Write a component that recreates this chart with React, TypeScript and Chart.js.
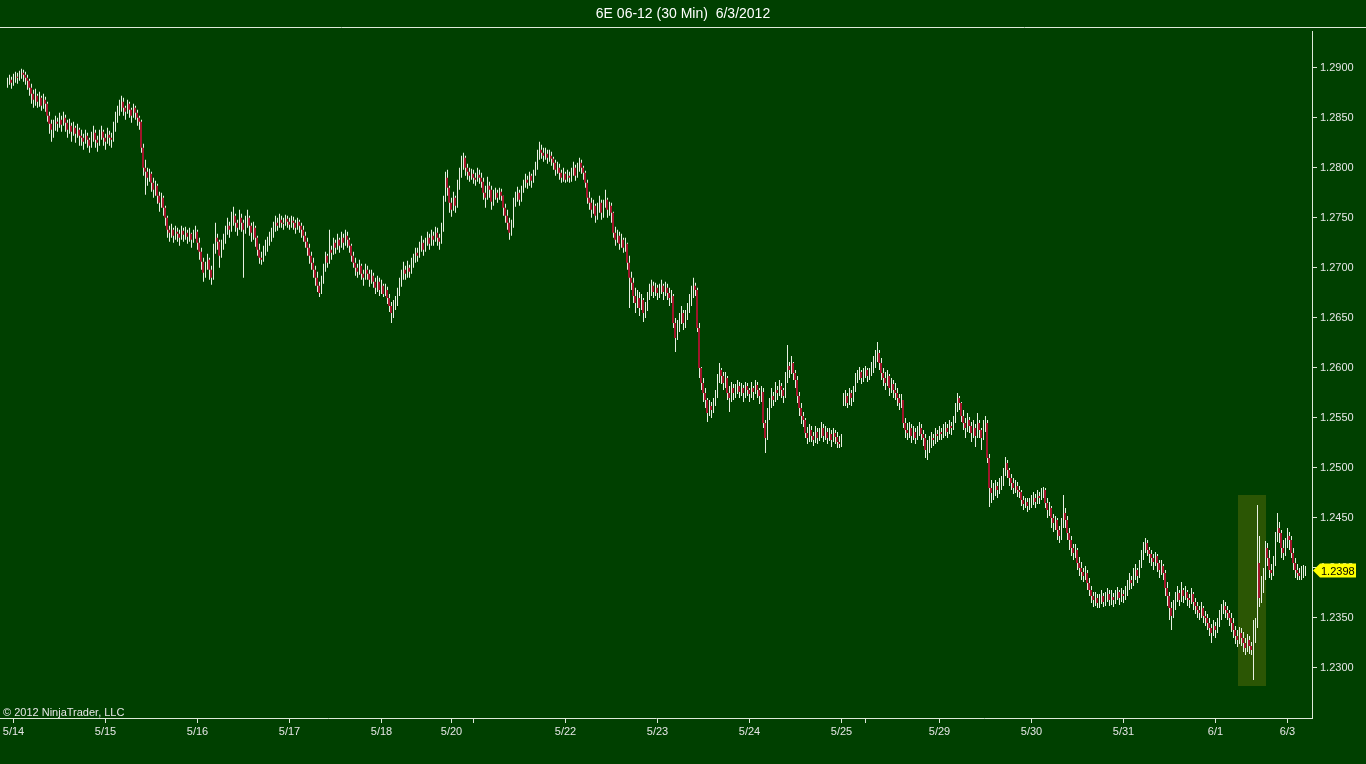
import { useEffect, useRef } from 'react';
import { Chart, registerables } from 'chart.js';

Chart.register(...registerables);

const TITLE = '6E 06-12 (30 Min)  6/3/2012';
const COPYRIGHT = '\u00a9 2012 NinjaTrader, LLC';

// 30 minute bars, prices stored as pips above 1.2000 (886 -> 1.2886)
const BASE = 1.2;
const FIRST_OPEN = 884;
// bars that opened away from the previous close (session gap)
const gapOpens: Record<number, number> = { 418: 562 };

const closes = [
  886, 888, 885, 889, 891, 890, 893,
  895, 893, 890, 887,
  880, 874, 868,
  872, 866, 870, 862, 868, 864,
  852, 844, 838,
  840, 846, 844, 848, 843, 850, 845, 838, 842, 836, 840, 834, 838, 832,
  830, 826, 832, 828, 822, 830, 835, 828, 825, 832, 836, 830, 826, 833, 830, 828, 838,
  848, 856, 862, 866, 860, 856, 864, 858, 852, 860, 855, 850, 846,
  820, 800,
  796, 790, 794, 785, 778, 782, 772, 765, 770, 760, 750,
  738, 735, 738, 732, 736, 734, 730, 737, 733, 735, 731, 734, 728, 732, 736,
  725, 716, 706, 695, 700, 708, 698, 690,
  718, 730, 726, 712, 722, 728,
  735, 742, 738, 748, 752, 745, 740, 750, 745,
  738, 745, 750, 742, 735, 740, 730,
  718, 710, 708, 715, 720,
  726, 730, 735, 740,
  745, 742, 748, 745, 744, 749, 746, 743, 747, 745, 740, 746, 742,
  738, 732, 726, 720, 712, 705, 698, 690, 682,
  675, 685,
  698, 712, 705, 718, 715, 725, 720, 728, 722, 730,
  725, 732, 728, 722,
  712, 705, 700, 696, 702, 694, 690, 698, 694, 688, 692,
  686, 680, 686, 678, 682, 674, 678,
  670, 662, 655, 660, 665,
  675, 685, 692, 698, 694, 700, 696, 704,
  708, 715, 712, 720, 725, 718, 726, 730, 724, 732,
  728, 735, 730, 726, 738,
  770, 790, 780,
  765, 758, 770, 762,
  782, 795, 805, 810, 800,
  796, 792, 794, 790, 788, 793, 790, 786,
  775, 770, 782, 778, 766,
  772, 775, 770, 776, 772,
  760, 752, 745, 735, 742,
  765, 770, 775, 768, 778,
  782, 788, 785, 792, 787, 795, 800,
  812, 818,
  815, 812, 814, 810, 812, 809,
  805, 798, 800, 795, 790, 794, 788, 792, 790,
  795, 800, 792, 798, 805, 800, 795,
  785, 770, 765, 758, 762, 752,
  758, 765, 755, 762, 768, 758, 762, 755,
  735, 728, 732, 724, 728, 720, 724,
  705, 690, 685,
  672, 665, 670, 660, 668, 655, 660,
  672, 678, 682, 676, 680, 675, 678, 682, 676,
  680, 675, 670, 672,
  645, 630, 640,
  648, 655, 645, 652, 660,
  668, 675, 682, 678,
  640, 600,
  585, 575, 568,
  555, 562, 558, 565, 572,
  590, 598, 592, 585, 590,
  575, 570, 580, 575,
  578, 582, 576, 580, 575, 582, 578, 574, 580, 576, 583, 578, 572, 576,
  545, 530,
  552, 565, 572, 568, 578, 575, 582, 578, 572,
  590, 602, 598, 605, 595, 588,
  572, 560, 552, 548,
  535, 530, 538, 532, 528, 536, 530, 534, 540, 532, 536, 530, 534, 528, 535, 531, 526, 524, 528,
  568, 572, 565, 575, 570, 578,
  588, 592, 596, 590, 594, 598, 592, 596, 600, 602,
  610, 615, 605,
  595, 590, 585, 592, 580, 584, 578,
  575, 570, 565, 568,
  545, 538, 535, 540, 532, 536, 530, 535, 540, 534, 530,
  518, 522,
  526, 530, 528, 534, 532, 536, 534, 538, 540, 536, 542, 540, 548,
  560, 570, 565,
  552, 545, 540, 548, 542,
  535, 540, 532, 545, 538, 530, 542, 545,
  510, 480,
  475, 478, 482, 478, 484, 486,
  495, 505, 498, 490,
  485, 480, 482, 478, 476,
  468, 464, 466, 462, 465,
  468, 470, 466, 472, 470, 475, 478,
  465, 458, 460, 450, 445, 448, 438, 432,
  445, 455, 448,
  435, 428, 420, 415, 418,
  405, 400, 396, 392, 395,
  385, 378, 372, 368, 370, 365,
  368, 372, 366, 370, 374, 368, 371, 368, 372, 376, 370, 374, 372, 376,
  382, 388, 385, 394, 398, 392, 402,
  412, 420, 425, 418, 414,
  410, 406, 412, 405, 398, 402, 395,
  380, 372, 360, 352, 362,
  370, 375, 368, 378, 372, 376, 370, 368, 374, 366,
  362, 358, 355, 360, 352, 350,
  345, 340, 335, 342, 338,
  345, 352, 358, 362, 358, 355, 350,
  345, 338, 332, 328, 335,
  330, 325, 320, 328, 322, 318,
  335, 345,
  405, 370, 380, 395, 420,
  410, 398, 395, 405,
  430, 440, 435,
  420, 415,
  425, 432, 428,
  415, 405, 398, 395,
  392, 395, 396, 398,
];

const highs = [
  890, 893, 891, 894, 896, 895, 897,
  899, 898, 896, 893,
  889, 884, 878,
  879, 874, 876, 872, 874, 871,
  866, 856, 848,
  848, 852, 850, 855, 852, 856, 853, 848, 849, 845, 846, 842, 844, 840,
  838, 834, 838, 835, 830, 836, 842, 838, 832, 838, 842, 838, 834, 840, 837, 835, 846,
  856, 862, 868, 872, 870, 862, 868, 866, 860, 864, 862, 858, 852,
  848, 824,
  808, 800, 799, 796, 790, 787, 784, 776, 775, 772, 762,
  752, 742, 744, 740, 742, 740, 738, 742, 740, 741, 738, 740, 735, 738, 742,
  738, 730, 720, 710, 706, 714, 710, 702,
  724, 745, 734, 728, 728, 734,
  742, 750, 746, 756, 761, 754, 748, 758, 754,
  748, 752, 758, 752, 745, 746, 742,
  732, 724, 716, 722, 728,
  731, 736, 740, 746,
  752, 750, 754, 752, 750, 753, 752, 750, 752, 751, 748, 750, 748,
  745, 742, 736, 730, 724, 716, 710, 702, 696,
  686, 692,
  704, 716, 714, 738, 722, 730, 728, 734, 730, 736,
  734, 738, 736, 730,
  724, 716, 710, 704, 708, 704, 698, 704, 702, 698, 698,
  695, 690, 692, 690, 688, 684, 684,
  681, 674, 666, 668, 672,
  680, 690, 698, 706, 702, 707, 703, 710,
  714, 720, 720, 726, 732, 728, 730, 736, 734, 738,
  736, 741, 740, 734, 745,
  772, 796, 798,
  782, 770, 776, 772,
  788, 800, 812, 815, 812,
  804, 800, 799, 798, 795, 800, 798, 795,
  790, 782, 791, 786, 782,
  778, 780, 778, 780, 779,
  771, 764, 758, 750, 748,
  770, 776, 781, 778, 782,
  788, 794, 792, 796, 794, 798, 806,
  818, 826,
  823, 820, 820, 818, 818, 816,
  811, 808, 806, 804, 798, 800, 796, 798, 796,
  800, 806, 803, 805, 810, 808, 802,
  797, 788, 776, 770, 768, 764,
  765, 772, 768, 768, 778, 770, 766, 765,
  756, 741, 738, 736, 734, 730, 730,
  725, 712, 696,
  690, 680, 678, 676, 674, 670, 666,
  676, 684, 688, 686, 685, 683, 684, 688, 684,
  686, 684, 680, 678,
  674, 650, 648,
  655, 662, 658, 658, 665,
  674, 682, 690, 685,
  680, 645,
  601, 590, 580,
  570, 568, 566, 570, 578,
  594, 605, 600, 596, 596,
  592, 582, 586, 584,
  584, 588, 586, 585, 583, 586, 585, 580, 586, 582, 588, 586, 580, 582,
  580, 548,
  560, 570, 580, 576, 586, 582, 588, 585, 580,
  596, 623, 606, 612, 606, 598,
  592, 576, 565, 556,
  550, 541, 544, 542, 536, 542, 540, 540, 546, 544, 542, 540, 540, 538, 540, 538, 536, 532, 534,
  575, 578, 575, 580, 578, 582,
  595, 598, 601, 598, 600, 602, 600, 600, 606, 612,
  618, 626, 618,
  610, 600, 596, 598, 594, 590, 588,
  585, 580, 574, 574,
  568, 550, 545, 546, 544, 542, 540, 542, 546, 544, 538,
  534, 528,
  532, 536, 534, 540, 538, 542, 540, 544, 546, 544, 548, 546, 552,
  565, 575, 572,
  566, 558, 550, 555, 551,
  546, 548, 544, 555, 548, 540, 548, 552,
  548, 514,
  488, 485, 488, 486, 490, 492,
  500, 511, 508, 500,
  494, 490, 488, 486, 482,
  478, 472, 470, 470, 470,
  473, 476, 474, 478, 476, 480, 481,
  480, 470, 466, 462, 454, 452, 450, 442,
  450, 473, 460,
  452, 440, 432, 424, 424,
  420, 411, 406, 400, 402,
  398, 390, 382, 376, 376, 374,
  374, 378, 375, 376, 380, 378, 378, 375, 378, 381, 378, 380, 378, 382,
  388, 395, 392, 400, 404, 400, 408,
  418, 426, 430, 428, 421,
  418, 414, 416, 414, 408, 408, 404,
  398, 386, 376, 366, 368,
  376, 382, 378, 386, 380, 382, 378, 374, 380, 376,
  370, 366, 362, 366, 362, 357,
  354, 350, 344, 348, 346,
  350, 358, 364, 368, 366, 362, 358,
  355, 350, 342, 338, 341,
  340, 336, 330, 334, 332, 326,
  348, 350,
  463, 432, 392, 400, 427,
  425, 418, 404, 412,
  436, 455, 446,
  438, 428,
  430, 440, 436,
  432, 420, 410, 404,
  400, 402, 403, 402,
];

const lows = [
  880, 883, 879, 882, 885, 884, 887,
  889, 886, 883, 878,
  872, 864, 860,
  862, 860, 861, 857, 859, 856,
  846, 834, 826,
  830, 837, 836, 840, 836, 842, 836, 830, 834, 826, 832, 825, 830, 822,
  822, 818, 824, 820, 815, 820, 826, 820, 816, 822, 828, 822, 818, 824, 822, 820, 826,
  836, 845, 852, 856, 852, 848, 854, 850, 845, 850, 848, 842, 838,
  815, 792,
  773, 782, 786, 776, 770, 772, 764, 756, 760, 752, 742,
  730, 726, 730, 725, 728, 726, 722, 728, 726, 728, 724, 726, 720, 725, 729,
  718, 708, 698, 686, 690, 698, 688, 683,
  688, 714, 718, 700, 710, 718,
  724, 733, 730, 736, 742, 736, 732, 738, 736,
  690, 734, 740, 732, 726, 728, 721,
  712, 704, 703, 706, 712,
  716, 722, 726, 730,
  736, 737, 740, 740, 738, 742, 740, 738, 740, 738, 734, 738, 735,
  730, 726, 720, 712, 704, 698, 690, 682, 676,
  671, 674,
  684, 696, 700, 704, 708, 713, 714, 718, 715, 720,
  718, 722, 720, 715,
  706, 700, 692, 690, 693, 688, 682, 688, 688, 681, 684,
  680, 674, 676, 672, 674, 671, 672,
  664, 656, 645, 650, 658,
  662, 672, 681, 688, 688, 690, 690, 694,
  700, 705, 706, 710, 716, 712, 716, 722, 718, 722,
  722, 726, 722, 718, 724,
  736, 766, 772,
  755, 751, 757, 755,
  760, 778, 790, 798, 792,
  788, 786, 788, 784, 782, 786, 784, 780,
  768, 760, 768, 770, 758,
  762, 768, 765, 768, 767,
  752, 745, 738, 728, 732,
  740, 761, 766, 762, 766,
  775, 780, 779, 782, 780, 785, 792,
  798, 808,
  809, 806, 808, 804, 806, 802,
  798, 792, 794, 788, 785, 786, 785, 786, 785,
  786, 792, 787, 790, 796, 794, 788,
  780, 764, 758, 750, 754, 745,
  748, 755, 748, 750, 760, 750, 752, 745,
  730, 722, 725, 718, 720, 715, 716,
  698, 660, 678,
  665, 655, 660, 652, 658, 646, 650,
  657, 668, 672, 670, 672, 668, 670, 674, 668,
  672, 668, 662, 665,
  640, 616, 628,
  636, 644, 638, 640, 648,
  655, 662, 670, 672,
  636, 590,
  578, 566, 560,
  546, 552, 550, 555, 562,
  570, 585, 584, 578, 580,
  568, 556, 566, 568,
  570, 574, 570, 572, 566, 570, 572, 566, 570, 568, 574, 570, 564, 566,
  540, 515,
  528, 548, 560, 562, 566, 568, 572, 570, 565,
  570, 585, 590, 594, 588, 580,
  565, 552, 544, 541,
  530, 524, 526, 526, 522, 525, 524, 527, 530, 526, 528, 524, 527, 521, 526, 524, 520, 520, 521,
  562, 562, 560, 563, 562, 566,
  576, 585, 588, 584, 586, 590, 586, 588, 592, 595,
  600, 606, 598,
  588, 582, 578, 582, 572, 575, 570,
  568, 562, 558, 560,
  540, 530, 528, 530, 525, 528, 524, 528, 532, 528, 522,
  510, 508,
  515, 520, 522, 524, 526, 528, 528, 530, 532, 530, 534, 533, 538,
  545, 556, 558,
  546, 538, 530, 536, 535,
  526, 530, 521, 530, 530, 518, 528, 536,
  505, 461,
  465, 468, 472, 470, 474, 478,
  482, 492, 490, 482,
  478, 474, 475, 471, 470,
  462, 458, 460, 456, 458,
  460, 463, 460, 464, 464, 468, 470,
  460, 450, 452, 440, 436, 438, 428, 425,
  428, 440, 440,
  428, 418, 412, 408, 410,
  398, 392, 388, 386, 388,
  378, 372, 365, 361, 362, 360,
  360, 364, 361, 362, 366, 362, 363, 361, 364, 368, 363, 366, 365, 368,
  372, 378, 379, 382, 388, 385, 390,
  400, 408, 415, 412, 405,
  402, 398, 402, 396, 390, 393, 388,
  372, 362, 348, 338, 350,
  358, 366, 362, 366, 365, 368, 362, 360, 364, 358,
  354, 350, 348, 350, 345, 342,
  338, 332, 325, 332, 330,
  335, 341, 348, 354, 350, 348, 342,
  336, 330, 324, 321, 324,
  322, 316, 313, 316, 314, 313,
  288, 325,
  340, 361, 365, 375, 388,
  402, 390, 388, 392,
  402, 426, 425,
  410, 408,
  412, 420, 418,
  410, 398, 390, 388,
  388, 388, 390, 392,
];

// day separators on the time axis, as bar indexes
const dayTickIndex = [3, 49, 95, 141, 187, 222, 233, 279, 325, 371, 417, 429, 466, 512, 558, 604, 640];
const dayTickLabel = ['5/14', '5/15', '5/16', '5/17', '5/18', '5/20', '', '5/22', '5/23', '5/24', '5/25', '', '5/29', '5/30', '5/31', '6/1', '6/3'];
const priceTicks = [1.23, 1.235, 1.24, 1.245, 1.25, 1.255, 1.26, 1.265, 1.27, 1.275, 1.28, 1.285, 1.29];

// shaded zone on 6/1
const zoneFrom = 615;
const zoneTo = 629;
const zoneLow = 1.2282;
const zoneHigh = 1.2473;

const BG = '#004000';
const LINE = '#dfe9da';
const TEXT = '#e6e6e6';
const WICK = '#e8f0e2';
const DOWN = '#a1162a';
const UP = 'rgba(0,0,0,0)';
const FONT = '"Liberation Sans", Arial, sans-serif';

const toPrice = (v: number) => BASE + v / 10000;

export default function App() {
  const canvasRef = useRef<HTMLCanvasElement | null>(null);

  useEffect(() => {
    document.body.style.margin = '0';
    document.body.style.overflow = 'hidden';
    if (!canvasRef.current) return;

    const opens = closes.map((c, i) => (gapOpens[i] !== undefined ? gapOpens[i] : i === 0 ? FIRST_OPEN : closes[i - 1]));
    const ranges = closes.map((c, i) => ({
      x: i,
      y: [toPrice(Math.min(lows[i], opens[i], c)), toPrice(Math.max(highs[i], opens[i], c))],
    }));
    // body sits a quarter slot left so it covers the wick column and the gap beside it
    const bodies = closes.map((c, i) => ({
      x: i - 0.25,
      y: [toPrice(Math.min(opens[i], c)), toPrice(Math.max(opens[i], c))],
    }));
    const bodyColors = closes.map((c, i) => (c < opens[i] ? DOWN : UP));
    const lastClose = toPrice(closes[closes.length - 1]);

    const decor = {
      id: 'decor',
      beforeDraw(chart: any) {
        const { ctx, width, height } = chart;
        ctx.save();
        ctx.fillStyle = BG;
        ctx.fillRect(0, 0, width, height);
        ctx.strokeStyle = LINE;
        ctx.lineWidth = 1;
        ctx.beginPath();
        ctx.moveTo(0, 27.5);
        ctx.lineTo(width, 27.5);
        ctx.stroke();
        ctx.restore();
      },
      beforeDatasetsDraw(chart: any) {
        const { ctx, scales } = chart;
        const l = Math.round(scales.x.getPixelForValue(zoneFrom));
        const r = Math.round(scales.x.getPixelForValue(zoneTo));
        const t = Math.round(scales.y.getPixelForValue(zoneHigh));
        const b = Math.round(scales.y.getPixelForValue(zoneLow));
        ctx.save();
        ctx.fillStyle = '#2b5604';
        ctx.fillRect(l, t, r - l, b - t);
        ctx.restore();
      },
      afterDraw(chart: any) {
        const { ctx, scales, chartArea } = chart;
        ctx.save();
        ctx.font = `11px ${FONT}`;
        ctx.fillStyle = TEXT;
        ctx.textBaseline = 'alphabetic';
        ctx.textAlign = 'left';
        ctx.fillText(COPYRIGHT, 3, chartArea.bottom - 2);

        const y = Math.round(scales.y.getPixelForValue(lastClose)) + 0.5;
        const x0 = chartArea.right + 1;
        ctx.fillStyle = '#ffff00';
        ctx.beginPath();
        ctx.moveTo(x0, y);
        ctx.lineTo(x0 + 7, y - 7);
        ctx.lineTo(x0 + 43, y - 7);
        ctx.lineTo(x0 + 43, y + 7);
        ctx.lineTo(x0 + 7, y + 7);
        ctx.closePath();
        ctx.fill();
        ctx.fillStyle = '#000000';
        ctx.textBaseline = 'middle';
        ctx.fillText(lastClose.toFixed(4), x0 + 8, y + 1);
        ctx.restore();
      },
    };

    const chart = new Chart(canvasRef.current, {
      type: 'bar',
      data: {
        datasets: [
          { label: 'body', data: bodies as any, backgroundColor: bodyColors, barThickness: 2, inflateAmount: 0, grouped: false, order: 0 },
          { label: 'range', data: ranges as any, backgroundColor: WICK, barThickness: 1, inflateAmount: 0, grouped: false, order: 1 },
        ],
      },
      options: {
        animation: false,
        responsive: true,
        maintainAspectRatio: false,
        layout: { padding: 0 },
        plugins: {
          legend: { display: false },
          tooltip: { enabled: false },
          title: {
            display: true,
            text: TITLE,
            color: '#ffffff',
            font: { size: 14, family: FONT, weight: 'normal' },
            padding: { top: 6, bottom: 9 },
          },
        },
        scales: {
          x: {
            type: 'linear',
            min: -3.75,
            max: 652.25,
            offset: false,
            afterBuildTicks: (s: any) => {
              s.ticks = dayTickIndex.map((v) => ({ value: v }));
            },
            afterFit: (s: any) => {
              s.height = 46;
            },
            ticks: {
              autoSkip: false,
              maxRotation: 0,
              color: TEXT,
              padding: 2,
              font: { size: 11, family: FONT },
              callback: (_v: any, i: number) => dayTickLabel[i],
            },
            grid: { drawOnChartArea: false, drawTicks: true, tickLength: 5, color: LINE, offset: false },
            border: { display: true, color: LINE },
          },
          y: {
            type: 'linear',
            position: 'right',
            min: 1.225,
            max: 1.2936,
            beginAtZero: false,
            afterBuildTicks: (s: any) => {
              s.ticks = priceTicks.map((v) => ({ value: v }));
            },
            afterFit: (s: any) => {
              s.width = 54;
            },
            ticks: {
              color: TEXT,
              padding: 3,
              font: { size: 11, family: FONT },
              callback: (v: any) => Number(v).toFixed(4),
            },
            grid: { drawOnChartArea: false, drawTicks: true, tickLength: 5, color: LINE },
            border: { display: true, color: LINE },
          },
        },
      },
      plugins: [decor],
    });
    return () => chart.destroy();
  }, []);

  return (
    <div style={{ width: 1366, height: 764, position: 'relative' }}>
      <canvas ref={canvasRef}></canvas>
    </div>
  );
}
